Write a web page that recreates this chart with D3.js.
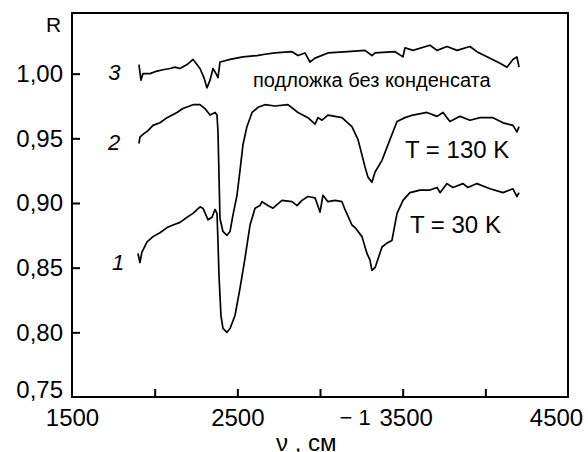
<!DOCTYPE html>
<html>
<head>
<meta charset="utf-8">
<script src="https://cdn.jsdelivr.net/npm/d3@7"></script>
<style>
  html, body { margin: 0; padding: 0; background: #fff; }
  svg { display: block; font-family: "Liberation Sans", Arial, Helvetica, sans-serif; }
</style>
</head>
<body>
<svg id="chart" width="588" height="452"></svg>
<script>
// ---- data ----
const yTicks = [0.75, 0.80, 0.85, 0.90, 0.95, 1.00];
const xTicks = [1500, 2000, 2500, 3000, 3500, 4000, 4500];
const xTickLabels = [1500, 2500, 3500, 4500];

// curve 3: substrate without condensate
const nu3 = [1905,1917,1929,1972,2014,2050,2093,2123,2153,2196,2232,2256,2274,2298,2316,2335,2353,2371,2383,2395,2425,2456,2534,2619,2667,2728,2831,2867,2909,2939,2970,3048,3169,3272,3314,3333,3454,3502,3514,3562,3665,3708,3768,3829,3907,3949,4028,4089,4131,4167,4191,4204];
const r3  = [1.007,0.995,1.000,1.000,1.002,1.003,1.004,1.005,1.004,1.007,1.011,1.007,1.004,0.997,0.989,0.995,1.004,1.000,0.997,1.009,1.010,1.011,1.013,1.014,1.015,1.016,1.017,1.014,1.016,1.009,1.012,1.016,1.017,1.018,1.014,1.016,1.017,1.013,1.020,1.018,1.022,1.018,1.021,1.018,1.021,1.017,1.012,1.008,1.005,1.011,1.013,1.005];

// curve 2: T = 130 K
const nu2 = [1905,1911,1929,1960,1990,2032,2075,2135,2171,2232,2274,2304,2335,2365,2377,2383,2389,2395,2413,2437,2456,2474,2498,2516,2534,2558,2589,2625,2667,2728,2806,2867,2927,2970,2988,3012,3048,3133,3193,3230,3272,3290,3314,3333,3375,3423,3466,3514,3562,3647,3708,3744,3786,3847,3907,3968,4046,4107,4167,4191,4204];
const r2  = [0.946,0.951,0.953,0.956,0.960,0.962,0.966,0.970,0.973,0.976,0.976,0.973,0.968,0.970,0.968,0.955,0.922,0.888,0.878,0.875,0.878,0.891,0.906,0.925,0.945,0.959,0.970,0.974,0.976,0.975,0.976,0.970,0.966,0.961,0.966,0.964,0.968,0.966,0.959,0.949,0.928,0.920,0.916,0.924,0.933,0.949,0.963,0.966,0.968,0.970,0.967,0.970,0.963,0.967,0.964,0.966,0.966,0.962,0.960,0.955,0.959];

// curve 1: T = 30 K
const nu1 = [1899,1911,1923,1954,1990,2032,2075,2111,2153,2196,2232,2274,2292,2323,2347,2365,2377,2383,2389,2401,2413,2437,2456,2486,2516,2546,2577,2607,2637,2649,2685,2716,2770,2831,2861,2891,2927,2970,3000,3018,3048,3091,3133,3151,3193,3212,3254,3284,3302,3314,3333,3375,3405,3435,3466,3502,3544,3605,3665,3708,3726,3768,3804,3865,3895,3949,4028,4107,4167,4191,4204];
const r1  = [0.861,0.854,0.862,0.870,0.874,0.877,0.881,0.883,0.885,0.889,0.892,0.897,0.896,0.887,0.889,0.895,0.892,0.870,0.844,0.813,0.803,0.800,0.803,0.813,0.834,0.857,0.883,0.896,0.898,0.901,0.898,0.896,0.902,0.901,0.898,0.902,0.905,0.904,0.893,0.906,0.901,0.902,0.901,0.895,0.883,0.881,0.874,0.861,0.856,0.848,0.850,0.866,0.869,0.871,0.892,0.902,0.908,0.910,0.910,0.912,0.908,0.915,0.912,0.915,0.912,0.915,0.911,0.908,0.911,0.905,0.908];

const curveNames = ["3", "2", "1"];
const annotations = [
  {text: "подложка без конденсата", nu: 2595, r: 0.990, size: 20},
  {text: "T = 130 K", nu: 3514, r: 0.935, size: 24},
  {text: "T = 30 K",  nu: 3544, r: 0.877, size: 24}
];
const curveLabelPos = [
  {nu: 1720, r: 0.995},
  {nu: 1718, r: 0.941},
  {nu: 1742, r: 0.848}
];

// ---- layout ----
const W = 588, H = 452;
const L = 72, R = 568, T = 13, B = 397;

const svg = d3.select("#chart");
const x = d3.scaleLinear().domain([1500, 4500]).range([L, R]);
const y = d3.scaleLinear().domain([0.75, 1.0469]).range([B, T]);

// frame
svg.append("rect")
  .attr("x", L).attr("y", T).attr("width", R - L).attr("height", B - T)
  .attr("fill", "none").attr("stroke", "#000").attr("stroke-width", 2);

// x axis
const xAxis = d3.axisBottom(x)
  .tickValues(xTicks)
  .tickSizeInner(-8).tickSizeOuter(0).tickPadding(12)
  .tickFormat(d => xTickLabels.includes(d) ? String(d) : "");
const gx = svg.append("g").attr("transform", `translate(0,${B})`).call(xAxis);
gx.select(".domain").remove();
gx.selectAll(".tick line").attr("stroke", "#000").attr("stroke-width", 2)
  .filter(d => d === 1500 || d === 4500).remove();
gx.selectAll(".tick text").attr("fill", "#000").attr("font-size", 24)
  .attr("font-family", "Liberation Sans, Arial, sans-serif")
  .attr("dx", d => d === 4500 ? -12 : (d === 3500 ? 3 : 0));

// y axis
const yAxis = d3.axisLeft(y)
  .tickValues(yTicks)
  .tickSizeInner(-8).tickSizeOuter(0).tickPadding(9)
  .tickFormat(d => d3.format(".2f")(d).replace(".", ","));
const gy = svg.append("g").attr("transform", `translate(${L},0)`).call(yAxis);
gy.select(".domain").remove();
gy.selectAll(".tick line").attr("stroke", "#000").attr("stroke-width", 2)
  .filter(d => d === 0.75).remove();
gy.selectAll(".tick text").attr("fill", "#000").attr("font-size", 24)
  .attr("font-family", "Liberation Sans, Arial, sans-serif")
  .attr("y", d => d === 0.75 ? -7 : 0);

// axis titles
svg.append("text").attr("x", 46).attr("y", 32).attr("font-size", 21).text("R");
const xt = svg.append("text").attr("x", 276).attr("y", 451).attr("font-size", 24);
xt.append("tspan").text("ν , см");
xt.append("tspan").attr("dx", 3).attr("dy", -26).attr("font-size", 22).text("− 1");

// curves
const series = [
  {nu: nu3, r: r3},
  {nu: nu2, r: r2},
  {nu: nu1, r: r1}
];
const line = d3.line().x(d => x(d[0])).y(d => y(d[1]));
svg.append("g").selectAll("path")
  .data(series)
  .join("path")
  .attr("d", s => line(s.nu.map((v, i) => [v, s.r[i]])))
  .attr("fill", "none").attr("stroke", "#000")
  .attr("stroke-width", 1.7).attr("stroke-linejoin", "round");

// curve numbers
svg.append("g").selectAll("text")
  .data(curveNames)
  .join("text")
  .attr("x", (d, i) => x(curveLabelPos[i].nu))
  .attr("y", (d, i) => y(curveLabelPos[i].r))
  .attr("font-size", 22).attr("font-style", "italic")
  .text(d => d);

// annotations
svg.append("g").selectAll("text")
  .data(annotations)
  .join("text")
  .attr("x", d => x(d.nu)).attr("y", d => y(d.r))
  .attr("font-size", d => d.size)
  .text(d => d.text);
</script>
</body>
</html>
